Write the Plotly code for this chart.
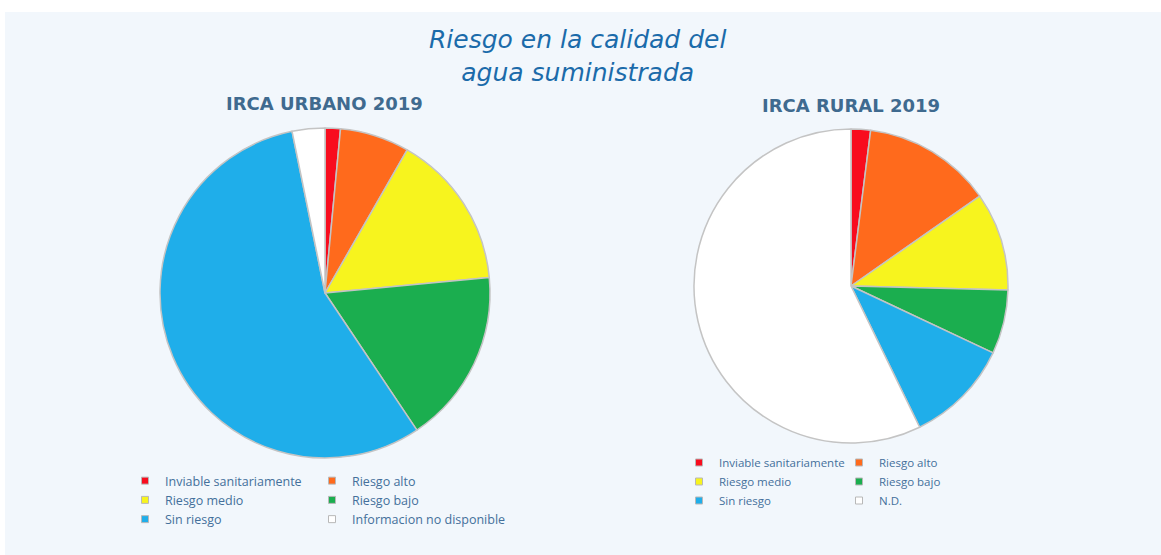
import plotly.graph_objects as go

# ---- data ----
urban_labels = ["Inviable sanitariamente", "Riesgo alto", "Riesgo medio",
                "Riesgo bajo", "Sin riesgo", "Informacion no disponible"]
urban_values = [1.5, 6.8, 15.2, 17.1, 56.2, 3.2]

rural_labels = ["Inviable sanitariamente", "Riesgo alto", "Riesgo medio",
                "Riesgo bajo", "Sin riesgo", "N.D."]
rural_values = [2.0, 13.3, 10.1, 6.6, 10.8, 57.2]

slice_colors = ["#F80C1E", "#FF6A1C", "#F7F41E", "#1BAE4F", "#1FAEEA", "#FFFFFF"]

main_title = "Riesgo en la calidad del<br>agua suministrada"
urban_title = "IRCA URBANO 2019"
rural_title = "IRCA RURAL 2019"

# legend column layout (row-major order as in the reference)
col_of_item = [0, 1, 0, 1, 0, 1]

# ---- layout geometry (pixels) ----
W, H = 1161, 555
ML, MT = 5, 12
PW, PH = W - ML, H - MT


def px_x(x):
    return (x - ML) / PW


def px_y(y):
    return (H - y) / PH


text_col = "#44709B"
border = "#C4C4C4"

fig = go.Figure()

fig.add_trace(go.Pie(
    labels=urban_labels, values=urban_values, sort=False, direction="clockwise",
    rotation=0, textinfo="none", showlegend=False,
    marker=dict(colors=slice_colors, line=dict(color=border, width=1.5)),
    domain=dict(x=[px_x(160), px_x(490)], y=[px_y(458), px_y(128)]),
    hoverinfo="label+percent",
))

fig.add_trace(go.Pie(
    labels=rural_labels, values=rural_values, sort=False, direction="clockwise",
    rotation=0, textinfo="none", showlegend=False,
    marker=dict(colors=slice_colors, line=dict(color=border, width=1.5)),
    domain=dict(x=[px_x(694), px_x(1008)], y=[px_y(443), px_y(129)]),
    hoverinfo="label+percent",
))

# legend entries (two columns per legend, built from the same category lists)
for legend_id, labels, prefix in (("legend", urban_labels, "u"),
                                   ("legend2", rural_labels, "r")):
    for col in (0, 1):
        for lab, c, cc in zip(labels, slice_colors, col_of_item):
            if cc != col:
                continue
            extra = dict(legendwidth=200) if col == 1 else {}
            fig.add_trace(go.Scatter(
                x=[None], y=[None], mode="markers", name=lab,
                legend=legend_id, legendgroup=f"{prefix}{col}",
                marker=dict(symbol="square", size=7, color=c,
                            line=dict(color="#B8B8B8", width=1)),
                hoverinfo="skip", **extra,
            ))

fig.update_layout(
    width=W, height=H,
    margin=dict(l=ML, r=0, t=MT, b=0),
    paper_bgcolor="#FFFFFF",
    plot_bgcolor="#F2F7FC",
    xaxis=dict(visible=False),
    yaxis=dict(visible=False),
    legend=dict(
        orientation="h", x=px_x(125), y=px_y(466), xanchor="left", yanchor="top",
        entrywidth=142, bgcolor="rgba(0,0,0,0)", tracegroupgap=0,
        font=dict(family="Open Sans", size=12.5, color=text_col),
    ),
    legend2=dict(
        orientation="h", x=px_x(679), y=px_y(448), xanchor="left", yanchor="top",
        entrywidth=115, bgcolor="rgba(0,0,0,0)", tracegroupgap=0,
        font=dict(family="Open Sans", size=11.5, color=text_col),
    ),
    annotations=[
        dict(text=main_title, x=px_x(577), y=px_y(56), xref="paper", yref="paper",
             xanchor="center", yanchor="middle", showarrow=False,
             font=dict(family="DejaVu Sans", size=25, color="#1B6BAA", style="italic")),
        dict(text=f"<b>{urban_title}</b>", x=px_x(324), y=px_y(103), xref="paper",
             yref="paper", xanchor="center", yanchor="middle", showarrow=False,
             font=dict(family="DejaVu Sans", size=18, color="#3F6A8F")),
        dict(text=f"<b>{rural_title}</b>", x=px_x(851), y=px_y(105), xref="paper",
             yref="paper", xanchor="center", yanchor="middle", showarrow=False,
             font=dict(family="DejaVu Sans", size=18, color="#3F6A8F")),
    ],
)

fig.write_html("out.html", config={"displayModeBar": False},
               post_script="document.body.style.margin='0';")
